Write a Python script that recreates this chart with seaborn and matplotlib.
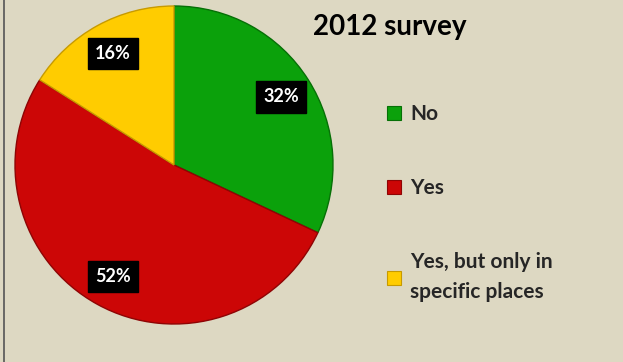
import matplotlib
matplotlib.use("Agg")
import matplotlib.pyplot as plt
from matplotlib.lines import Line2D
import seaborn as sns

categories = ["No", "Yes", "Yes, but only in\nspecific places"]
values = [32, 52, 16]
colors = ["#0BA10B", "#CC0606", "#FFCC00"]
edge_colors = ["#067006", "#8E0404", "#C79A00"]
title = "2012 survey"

sns.set_theme(style="white")
plt.rcParams["font.family"] = ["Lato", "DejaVu Sans"]

bg = "#DDD8C2"
W, H = 623, 362
fig = plt.figure(figsize=(W / 100, H / 100), dpi=100, facecolor=bg)

cx, cy, r = 174, 165, 159
ax = fig.add_axes([(cx - r) / W, (H - cy - r) / H, 2 * r / W, 2 * r / H])
ax.set_facecolor(bg)

wedges, texts, autotexts = ax.pie(
    values, colors=colors, startangle=90, counterclock=False, radius=1,
    autopct=lambda p: f"{p:.0f}%", pctdistance=0.8,
    wedgeprops=dict(linewidth=1.0),
    textprops=dict(color="white", fontsize=13, fontweight="bold"),
)
ax.set_xlim(-1, 1)
ax.set_ylim(-1, 1)
ax.axis("off")
for w, ec in zip(wedges, edge_colors):
    w.set_edgecolor(ec)
for t in autotexts:
    t.set_bbox(dict(facecolor="black", edgecolor="black", boxstyle="square,pad=0.4"))

fig.text(390 / W, 1 - 27 / H, title, ha="center", va="center",
         fontsize=20, fontweight="bold", color="black")

handles = [Line2D([0], [0], marker="s", linestyle="none", markersize=10,
                  markerfacecolor=c, markeredgecolor=ec, markeredgewidth=0.8)
           for c, ec in zip(colors, edge_colors)]
leg = fig.legend(handles, categories, loc="upper left",
                 bbox_to_anchor=(386 / W, 1 - 104 / H), frameon=False,
                 prop=dict(family=["Lato", "DejaVu Sans"], size=15, weight="bold"),
                 labelspacing=2.6, handlelength=0.8, handletextpad=0.35,
                 borderaxespad=0, borderpad=0)
for t in leg.get_texts():
    t.set_linespacing(1.6)

fig.add_artist(Line2D([3.5 / W, 3.5 / W], [0, 1], color="#555555", linewidth=1.2,
                      transform=fig.transFigure))

fig.savefig("out.png", dpi=100, facecolor=bg)
